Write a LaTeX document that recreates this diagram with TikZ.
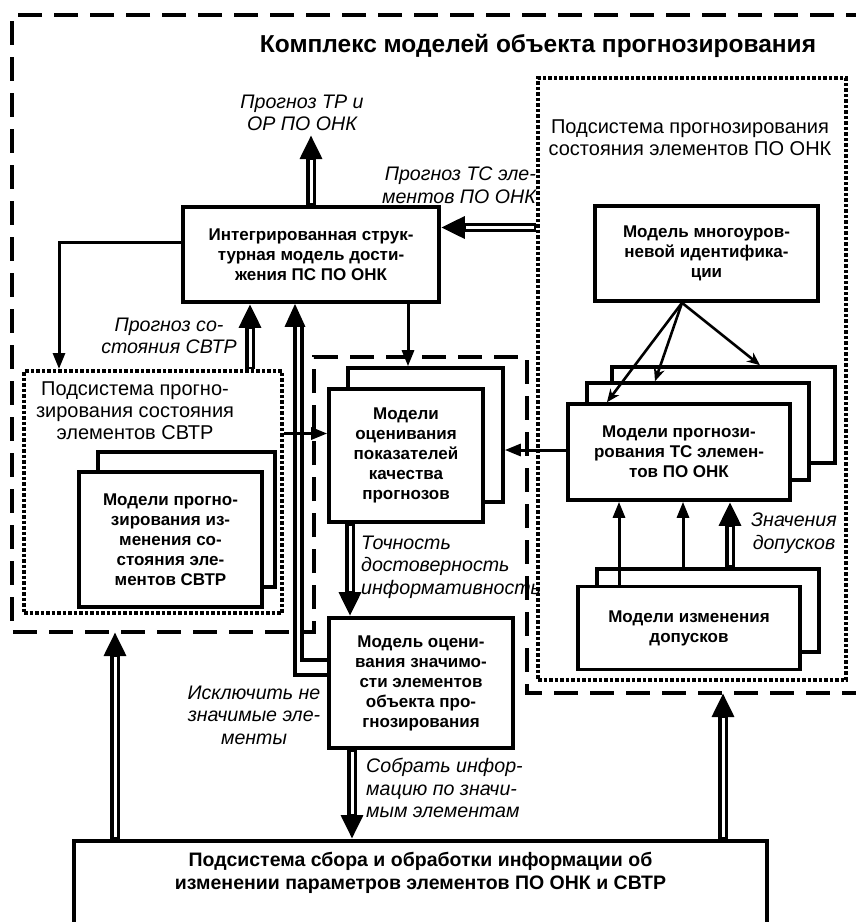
\documentclass[tikz,border=0pt]{standalone}
\usepackage{fontspec}
\setmainfont{Liberation Sans}
\usepackage{tikz}
\usetikzlibrary{arrows.meta,
                calc,
                positioning,
                shapes}
\tikzset{
	%Define standard arrow tip
	>={Triangle[length=16pt,width=12pt]},
	%Define style for boxes
	punkt/.style={
	       rectangle,
	       draw=black, line width=3.6pt,
	       fill=white,
	       align=center,
	       inner sep=0pt,
	       font=\fontsize{17}{20}\selectfont\bfseries},
	punkbig/.style={
	       align=center,
	       inner sep=0pt,
	       font=\fontsize{19.5}{23}\selectfont\bfseries},
	ttl/.style={
	       inner sep=0pt,
	       font=\fontsize{24.5}{27}\selectfont\bfseries},
	sub/.style={
	       align=center,
	       inner sep=0pt,
	       font=\fontsize{20}{22}\selectfont},
	lbl/.style={
	       align=center,
	       inner sep=0pt,
	       font=\fontsize{19.6}{22.5}\selectfont\itshape},
	% Define container styles
	dotbox/.style={
	       draw=black, line width=4pt,
	       dash pattern=on 3.5pt off 2pt,
	       inner sep=0pt},
	dashbox/.style={
	       line width=4pt,
	       dash pattern=on 24pt off 12pt},
	% Define arrow styles
	pil/.style={
	       ->,
	       line width=3pt},
	spil/.style={
	       -{Stealth[length=13pt,width=11pt]},
	       line width=2.6pt},
	bpil/.style={
	       -{Triangle[length=23pt,width=20pt]},
	       line width=3.2pt},
	dpil/.style={
	       -{Triangle[length=24pt,width=21pt]},
	       line width=9.5pt,
	       postaction={draw=white, line width=3pt, -,
	                   shorten >=25pt, shorten <=2pt}}
}

\begin{document}
\begin{tikzpicture}[x=1pt, y=-1pt]
		\useasboundingbox (0,0) rectangle (856,922);
		\clip (0,0) rectangle (856,922);
		% subsystems
		\node[dotbox, minimum width=308pt, minimum height=602pt](pnk_sub) at (692,379){};
		\node[dotbox, minimum width=258pt, minimum height=242pt](svtr_sub) at (153,492){};
		\node[ttl](cmpl_title) at (538,46){Комплекс моделей объекта прогнозирования};
		\node[sub](pnk_sub_txt) at (690,138){Подсистема прогнозирования\\состояния элементов ПО ОНК};
		\node[sub](svtr_sub_txt) at (135,411){Подсистема прогно-\\зирования состояния\\элементов СВТР};
		% models
		\node[punkt, minimum width=256pt, minimum height=95pt](integr) at (311,254.5){Интегрированная струк-\\турная модель дости-\\жения ПС ПО ОНК};
		\node[punkt, minimum width=223pt, minimum height=95pt](multi_id) at (706.5,253.5){Модель многоуров-\\невой идентифика-\\ции};
		\node[punkt, minimum width=223pt, minimum height=96pt](tc_back) at (723.5,415){};
		\node[punkt, minimum width=222pt, minimum height=97pt](tc_mid) at (698,431.5){};
		\node[punkt, minimum width=222pt, minimum height=96pt](tc_front) at (679,452){Модели прогнози-\\рования ТС элемен-\\тов ПО ОНК};
		\node[punkt, minimum width=155pt, minimum height=134pt](qual_back) at (425.5,435){};
		\node[punkt, minimum width=154pt, minimum height=133pt](qual_front) at (406,455.5){Модели\\оценивания\\показателей\\качества\\прогнозов};
		\node[punkt, minimum width=184pt, minimum height=130pt](signif) at (421,683){Модель оцени-\\вания значимо-\\сти элементов\\объекта про-\\гнозирования};
		\node[punkt, minimum width=177pt, minimum height=135pt](svtr_back) at (186.5,519.5){};
		\node[punkt, minimum width=183pt, minimum height=135pt](svtr_front) at (170.5,539.5){Модели прогно-\\зирования из-\\менения со-\\стояния эле-\\ментов СВТР};
		\node[punkt, minimum width=222pt, minimum height=83pt](tol_back) at (708,610.5){};
		\node[punkt, minimum width=222pt, minimum height=83pt](tol_front) at (689,628){Модели изменения\\допусков};
		\node[punkt, minimum width=693pt, minimum height=120pt, anchor=north](collect) at (420.5,839){};
		\node[punkbig, anchor=north](collect_txt) at (420.5,852){Подсистема сбора и обработки информации об\\изменении параметров элементов ПО ОНК и СВТР};
		% labels
		\node[lbl](tr_lbl) at (302,113){Прогноз ТР и\\ОР ПО ОНК};
		\node[lbl, align=right, anchor=east](tc_lbl) at (536,185){Прогноз ТС эле-\\ментов ПО ОНК};
		\node[lbl](svtr_lbl) at (169,336){Прогноз со-\\стояния СВТР};
		\node[lbl, align=left, anchor=west](acc_lbl) at (361,567){Точность\\достоверность\\информативность};
		\node[lbl](excl_lbl) at (254,715){Исключить не\\значимые эле-\\менты};
		\node[lbl, align=left, anchor=west](gather_lbl) at (366,788){Собрать инфор-\\мацию по значи-\\мым элементам};
		\node[lbl](tol_lbl) at (794,533){Значения\\допусков};
		% free ends
		\coordinate (out_tr) at (311,135);
		\coordinate (cmpl_in1) at (115,632);
		\coordinate (cmpl_in2) at (723,693);
		% connectors
		\draw[dpil] (integr.north) -- (out_tr);
		\draw[dpil] ([yshift=27pt]integr.east -| pnk_sub.west) -- ([yshift=27pt]integr.east);
		\draw[pil] ([yshift=12pt]integr.west) -| ([xshift=-94pt]svtr_sub.north);
		\draw[dpil] ([xshift=97pt]svtr_sub.north) -- ([xshift=97pt]svtr_sub.north |- integr.south);
		\draw[pil] ([xshift=97pt]integr.south) -- ([xshift=97pt]integr.south |- qual_back.north);
		\draw[pil] ([yshift=22pt]qual_front.west -| svtr_sub.east) -- ([yshift=22pt]qual_front.west);
		\draw[pil] ([yshift=2pt]tc_front.west) -- ([yshift=2pt]tc_front.west -| qual_back.east);
		\draw[dpil] ([xshift=-56pt]qual_front.south) -- ([xshift=-56pt]qual_front.south |- signif.north);
		\draw[line width=3.2pt] ([yshift=23pt]signif.west) -| ([xshift=-9pt,yshift=-22pt]integr.south);
		\draw[bpil] ([yshift=8pt]signif.west) -| ([xshift=-16pt]integr.south);
		\draw[dpil] ([xshift=-69pt]signif.south) -- ([xshift=-69pt]signif.south |- collect.north);
		\draw[dpil] (cmpl_in1 |- collect.north) -- (cmpl_in1);
		\draw[dpil] (cmpl_in2 |- collect.north) -- (cmpl_in2);
		\draw[spil] ([xshift=-24.5pt]multi_id.south) -- ([xshift=-72pt]tc_front.north);
		\draw[spil] ([xshift=-24.5pt]multi_id.south) -- ([xshift=-43pt]tc_mid.north);
		\draw[spil] ([xshift=-24.5pt]multi_id.south) -- ([xshift=36.5pt]tc_back.north);
		\draw[pil] ([xshift=-70pt]tol_front.north) -- ([xshift=-70pt]tol_front.north |- tc_front.south);
		\draw[pil] ([xshift=-25pt]tol_back.north) -- ([xshift=-25pt]tol_back.north |- tc_front.south);
		\draw[dpil] ([xshift=22pt]tol_back.north) -- ([xshift=22pt]tol_back.north |- tc_front.south);
		% complex of models
		\draw[dashbox] (870,15) -- (12,15) -- (12,632) -- (314,632) -- (314,357) -- (527,357) -- (527,693) -- (870,693);
	\end{tikzpicture}
\end{document}
